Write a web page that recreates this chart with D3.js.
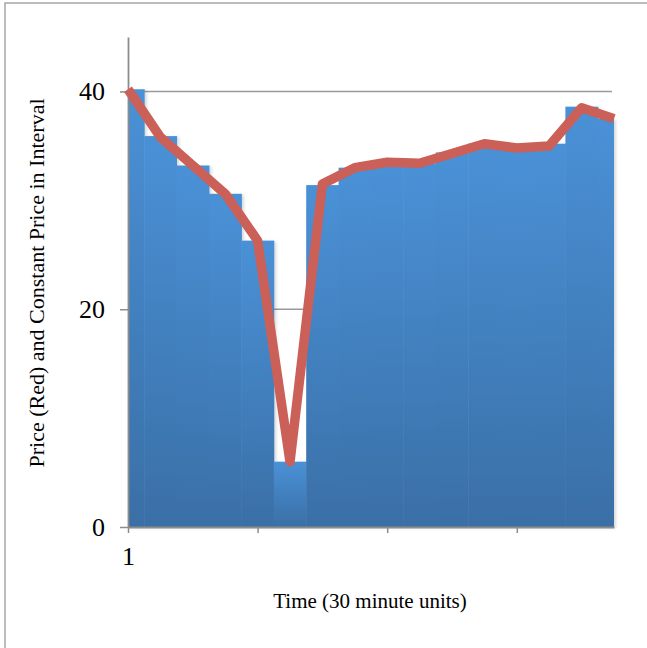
<!DOCTYPE html>
<html>
<head>
<meta charset="utf-8">
<script src="https://cdn.jsdelivr.net/npm/d3@7"></script>
<style>
  body { margin: 0; background: #fff; }
  svg text { font-family: "Liberation Serif", "Times New Roman", serif; fill: #000; }
</style>
</head>
<body>
<div id="viz"></div>
<script>
// time steps (30 minute units), first one labelled "1"
const steps = d3.range(0, 16);
// red line: price at each step
const price = [40.2, 35.8, 33.2, 30.6, 26.3, 6.0, 31.5, 33.0, 33.5, 33.4, 34.3, 35.2, 34.8, 35.0, 38.5, 37.5];
// blue bars: constant price in each interval
const constPrice = [40.2, 35.9, 33.2, 30.6, 26.3, 6.0, 31.4, 33.0, 33.5, 33.4, 34.4, 35.2, 34.8, 35.2, 38.6, 37.5];
const yTicks = [0, 20, 40];
const xTicks = [0, 4, 8, 12];
const xTickLabels = ["1", "", "", ""];

const width = 647, height = 648;
const margin = {left: 128, right: 33, top: 37, bottom: 121};

const svg = d3.select("#viz").append("svg")
  .attr("width", width)
  .attr("height", height);

// outer frame
svg.append("rect")
  .attr("x", 5).attr("y", 3)
  .attr("width", width + 10).attr("height", height + 10)
  .attr("fill", "none")
  .attr("stroke", "#a6a6a6")
  .attr("stroke-width", 1.5);

const x = d3.scaleLinear().domain([0, 15]).range([margin.left, width - margin.right]);
const y = d3.scaleLinear().domain([0, 45]).range([height - margin.bottom, margin.top]);
const step = x(1) - x(0);

const defs = svg.append("defs");
const grad = defs.append("linearGradient")
  .attr("id", "barGrad")
  .attr("x1", 0).attr("y1", 0).attr("x2", 0).attr("y2", 1);
grad.append("stop").attr("offset", "0%").attr("stop-color", "#4a91d7");
grad.append("stop").attr("offset", "100%").attr("stop-color", "#3a6fa6");

const shadow = defs.append("filter").attr("id", "shadow")
  .attr("x", "-5%").attr("y", "-5%").attr("width", "115%").attr("height", "115%");
shadow.append("feDropShadow")
  .attr("dx", 2).attr("dy", 1).attr("stdDeviation", 1.5)
  .attr("flood-color", "#000").attr("flood-opacity", 0.15);

defs.append("clipPath").attr("id", "plotClip")
  .append("rect")
  .attr("x", x(0)).attr("y", 0)
  .attr("width", x(15) - x(0)).attr("height", y(0));

// gridlines
svg.append("g")
  .selectAll("line")
  .data(yTicks.filter(d => d > 0))
  .join("line")
  .attr("x1", x(0)).attr("x2", x(15) - 2)
  .attr("y1", d => y(d)).attr("y2", d => y(d))
  .attr("stroke", "#9a9a9a")
  .attr("stroke-width", 1.5);

// bars
svg.append("g")
  .attr("filter", "url(#shadow)")
  .append("g")
  .attr("clip-path", "url(#plotClip)")
  .selectAll("rect")
  .data(steps)
  .join("rect")
  .attr("x", i => x(i) - step / 2)
  .attr("width", step + 0.5)
  .attr("y", i => y(constPrice[i]))
  .attr("height", i => y(0) - y(constPrice[i]))
  .attr("fill", "url(#barGrad)");

// axes
const yAxis = svg.append("g")
  .attr("transform", `translate(${x(0)},0)`)
  .call(d3.axisLeft(y).tickValues(yTicks).tickSize(8).tickPadding(15).tickSizeOuter(0));
yAxis.select(".domain").attr("stroke", "#8c8c8c").attr("stroke-width", 1.8);
yAxis.selectAll(".tick line").attr("stroke", "#8c8c8c").attr("stroke-width", 1.5);
yAxis.selectAll(".tick text")
  .style("font-family", '"Liberation Serif", "Times New Roman", serif')
  .style("font-size", "26px")
  .attr("fill", "#000");

const xAxis = svg.append("g")
  .attr("transform", `translate(0,${y(0)})`)
  .call(d3.axisBottom(x).tickValues(xTicks).tickSize(6).tickPadding(14).tickSizeOuter(0)
    .tickFormat((d, i) => xTickLabels[i]));
xAxis.select(".domain").attr("stroke", "#8c8c8c").attr("stroke-width", 2.2);
xAxis.selectAll(".tick line").attr("stroke", "#8c8c8c").attr("stroke-width", 1.5);
xAxis.selectAll(".tick text")
  .style("font-family", '"Liberation Serif", "Times New Roman", serif')
  .style("font-size", "26px")
  .attr("fill", "#000");

// price line
const line = d3.line()
  .x(i => x(i))
  .y(i => y(price[i]));

svg.append("path")
  .datum(steps)
  .attr("d", line)
  .attr("fill", "none")
  .attr("stroke", "#cb6058")
  .attr("stroke-width", 9.5)
  .attr("stroke-linejoin", "round");

// axis titles
svg.append("text")
  .attr("x", 370)
  .attr("y", 608)
  .attr("text-anchor", "middle")
  .style("font-size", "21px")
  .text("Time (30 minute units)");

svg.append("text")
  .attr("transform", "translate(44,283) rotate(-90)")
  .attr("text-anchor", "middle")
  .style("font-size", "22px")
  .text("Price (Red) and Constant Price in Interval");
</script>
</body>
</html>
